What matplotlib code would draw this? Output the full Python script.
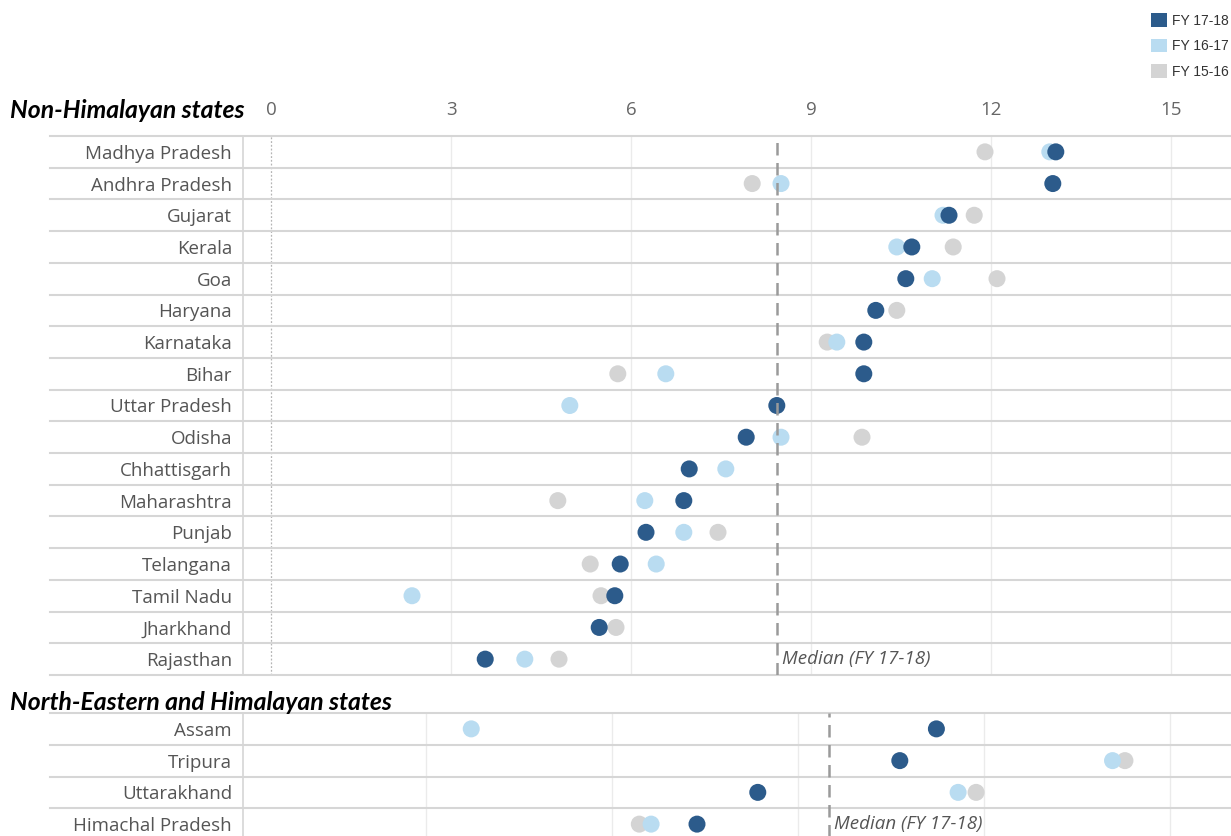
import numpy as np
import matplotlib
matplotlib.use("Agg")
from matplotlib import pyplot as plt
from matplotlib.patches import Patch

nan = np.nan

# Non-Himalayan states
states_top = ["Madhya Pradesh", "Andhra Pradesh", "Gujarat", "Kerala", "Goa",
              "Haryana", "Karnataka", "Bihar", "Uttar Pradesh", "Odisha",
              "Chhattisgarh", "Maharashtra", "Punjab", "Telangana",
              "Tamil Nadu", "Jharkhand", "Rajasthan"]
fy1718_top = [13.08, 13.03, 11.30, 10.68, 10.58, 10.08, 9.88, 9.88, 8.43, 7.92,
              6.97, 6.88, 6.25, 5.82, 5.73, 5.47, 3.57]
fy1617_top = [12.98, 8.50, 11.20, 10.43, 11.02, nan, 9.43, 6.58, 4.98, 8.50,
              7.58, 6.23, 6.88, 6.42, 2.35, nan, 4.23]
fy1516_top = [11.90, 8.02, 11.72, 11.37, 12.10, 10.43, 9.27, 5.78, nan, 9.85,
              nan, 4.78, 7.45, 5.32, 5.50, 5.75, 4.80]

# North-Eastern and Himalayan states
states_bot = ["Assam", "Tripura", "Uttarakhand", "Himachal Pradesh"]
fy1718_bot = [11.23, 10.64, 8.35, 7.37]
fy1617_bot = [3.73, 14.07, 11.58, 6.63]
fy1516_bot = [nan, 14.27, 11.87, 6.44]

ticks = [0, 3, 6, 9, 12, 15]
series_labels = ["FY 17-18", "FY 16-17", "FY 15-16"]
colors = ["#2c5b8b", "#b9dcf1", "#d4d4d4"]

W, H = 1231, 836
LABEL_FONT = "Open Sans"
TITLE_FONT = "Lato"
fig = plt.figure(figsize=(W / 100, H / 100), dpi=100)


def px_axes(left, top, right, bottom):
    return fig.add_axes([left / W, (H - bottom) / H, (right - left) / W, (bottom - top) / H])


def draw_panel(ax, states, s1718, s1617, s1516, xlim, show_ticks, zero_line):
    n = len(states)
    y = np.arange(n)
    ax.set_xlim(*xlim)
    ax.set_ylim(n - 0.5, -0.5)
    for sp in ["top", "right", "bottom"]:
        ax.spines[sp].set_visible(False)
    ax.spines["left"].set_color("#d6d6d6")
    ax.spines["left"].set_linewidth(1.2)

    for t in ticks[1:]:
        ax.axvline(t, color="#ebebeb", lw=1.0, zorder=1)
    if zero_line:
        ax.axvline(0, color="#b5b5b5", lw=0.9, ls=(0, (1.5, 1.5)), zorder=1)

    for k in range(n + 1):
        ax.axhline(k - 0.5, xmin=-0.195, xmax=1, color="#d6d6d6", lw=1.5,
                   clip_on=False, zorder=2)

    for vals, col, z in [(s1516, colors[2], 3), (s1617, colors[1], 4), (s1718, colors[0], 5)]:
        ax.scatter(vals, y, s=150, color=col, edgecolors="none", zorder=z)

    med = np.median(s1718)
    ax.axvline(med, color="#9a9a9a", lw=1.8, ls=(0, (5, 3)), zorder=6)
    ax.annotate("Median (FY 17-18)", (med, n - 1), xytext=(4, 0),
                textcoords="offset points", ha="left", va="center",
                fontsize=13.5, style="italic", color="#555555", family=LABEL_FONT)

    ax.set_yticks(y)
    ax.set_yticklabels(states, fontsize=13.5, color="#555555", family=LABEL_FONT)
    ax.tick_params(axis="y", length=0, pad=8)
    if show_ticks:
        ax.xaxis.tick_top()
        ax.set_xticks(ticks)
        ax.set_xticklabels([str(t) for t in ticks], fontsize=13.5, color="#666666",
                           family=LABEL_FONT)
        ax.tick_params(axis="x", length=0, pad=12)
    else:
        ax.set_xticks([])


ax1 = px_axes(243, 136, W, 675)
draw_panel(ax1, states_top, fy1718_top, fy1617_top, fy1516_top,
           (-0.467, 16.0), True, True)

ax2 = px_axes(243, 713, W, 840)
draw_panel(ax2, states_bot, fy1718_bot, fy1617_bot, fy1516_bot,
           (0.05, 15.98), False, False)

fig.text(10 / W, 1 - 110 / H, "Non-Himalayan states", ha="left", va="center",
         fontsize=17.8, fontweight="bold", style="italic", family=TITLE_FONT)
fig.text(10 / W, 1 - 703 / H, "North-Eastern and Himalayan states", ha="left",
         va="center", fontsize=17.8, fontweight="bold", style="italic", family=TITLE_FONT)

handles = [Patch(facecolor=c, edgecolor="none") for c in colors]
fig.legend(handles, series_labels, loc="upper left", bbox_to_anchor=(1144 / W, 1 - 6 / H),
           frameon=False, handlelength=1.15, handleheight=1.15,
           handletextpad=0.35, labelspacing=0.8, borderpad=0,
           prop={"family": "Liberation Sans", "size": 10})
for t in fig.legends[0].get_texts():
    t.set_color("#333333")

fig.savefig("out.png", dpi=100)
